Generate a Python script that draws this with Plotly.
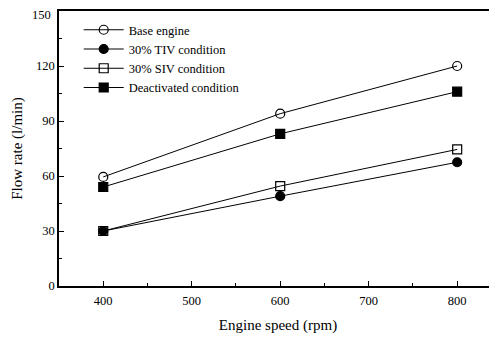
import plotly.graph_objects as go

speed = [400, 600, 800]
base_engine = [59.5, 94, 120]
tiv_30 = [30, 49, 67.5]
siv_30 = [30, 54.5, 74.5]
deactivated = [54, 83, 106]
y_ticks = [0, 30, 60, 90, 120, 150]

font = "Liberation Serif"
fig = go.Figure()
series = [
    ("Base engine", base_engine, "circle-open"),
    ("30% TIV condition", tiv_30, "circle"),
    ("30% SIV condition", siv_30, "square-open"),
    ("Deactivated condition", deactivated, "square"),
]
for name, vals, sym in series:
    fig.add_trace(go.Scatter(
        x=speed, y=vals, name=name, mode="lines+markers",
        line=dict(color="black", width=1),
        marker=dict(symbol=sym, size=9, color="black",
                    line=dict(color="black", width=1.2)),
    ))

# top tick label drawn as annotation so it is not clipped at the page edge
fig.add_annotation(text=str(y_ticks[-1]), xref="paper", x=0, yref="y", y=y_ticks[-1],
                   xanchor="right", yanchor="middle", xshift=-6, yshift=-4,
                   showarrow=False, font=dict(size=12.5, family=font, color="black"))

fig.update_layout(
    width=489, height=331,
    margin=dict(l=51, r=0, t=3, b=53, autoexpand=False),
    paper_bgcolor="white", plot_bgcolor="white",
    font=dict(family=font, size=13, color="black"),
    showlegend=True,
    legend=dict(x=0.045, y=0.985, xanchor="left", yanchor="top",
                bgcolor="rgba(0,0,0,0)", font=dict(size=12.5, family=font),
                tracegroupgap=0, itemwidth=40),
    xaxis=dict(range=[350, 845], tickvals=[400, 500, 600, 700, 800],
               ticks="inside", ticklen=5, tickwidth=1, tickcolor="black",
               minor=dict(dtick=50, tick0=350, ticks="inside", ticklen=3, tickcolor="black"),
               showline=True, linecolor="black", linewidth=1.5, mirror=True,
               showgrid=False, zeroline=False, automargin=False,
               ticklabelstandoff=2, ticklabeloverflow="allow",
               title=dict(text="Engine speed (rpm)", font=dict(size=15, family=font), standoff=13),
               tickfont=dict(size=12.5, family=font)),
    yaxis=dict(range=[0, 150], tickvals=y_ticks,
               ticktext=[str(v) for v in y_ticks[:-1]] + [""],
               ticks="inside", ticklen=5, tickwidth=1, tickcolor="black",
               minor=dict(dtick=15, ticks="inside", ticklen=3, tickcolor="black"),
               showline=True, linecolor="black", linewidth=1.5,
               showgrid=False, zeroline=False, automargin=False,
               ticklabeloverflow="allow",
               title=dict(text="Flow rate (l/min)", font=dict(size=15, family=font), standoff=10),
               tickfont=dict(size=12.5, family=font)),
)
fig.write_html("out.html")
